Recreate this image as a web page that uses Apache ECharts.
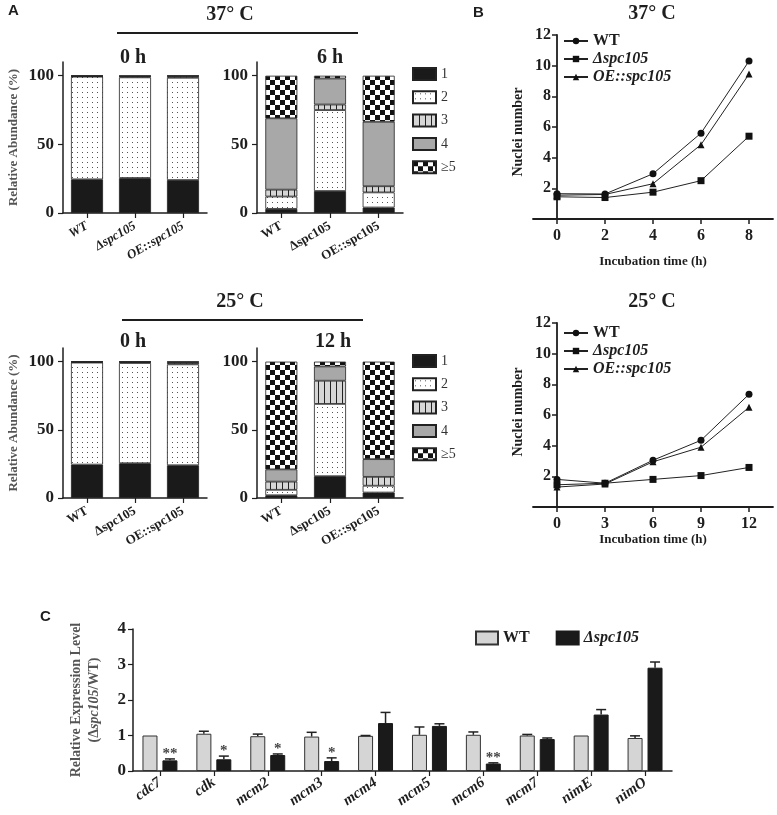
<!DOCTYPE html>
<html><head><meta charset="utf-8">
<script src="https://cdn.jsdelivr.net/npm/echarts@6/dist/echarts.min.js"></script>
<style>html,body{margin:0;padding:0;background:#fff}#c{width:777px;height:815px}</style>
</head><body><div id="c"></div>
<script>
// ---------- Panel A data (rows = nuclei classes, columns = strains) ----------
const strains = ['WT', 'Δspc105', 'OE::spc105'];
const nucleiClasses = ['1', '2', '3', '4', '≥5'];
const A37_0h = [[24.5, 25.5, 24], [74.8, 73.3, 74.5], [0.4, 0.7, 1.0], [0.2, 0.3, 0.4], [0.1, 0.2, 0.1]];
const A37_6h = [[3, 16, 4], [9, 59, 11], [5, 4, 4.5], [52, 19, 47], [31, 2, 33.5]];
const A25_0h = [[24.5, 25.5, 24], [74.8, 73.5, 74], [0.4, 0.6, 1.0], [0.2, 0.3, 0.8], [0.1, 0.1, 0.2]];
const A25_12h = [[2, 16, 4], [4, 53, 5], [6, 17, 6.5], [9, 10.5, 13], [79, 3.5, 71.5]];
const aTicks = [0, 50, 100];

// ---------- Panel B data ----------
const lineNames = ['WT', 'Δspc105', 'OE::spc105'];
const t37 = [0, 2, 4, 6, 8];
const wt37 = [1.65, 1.63, 2.95, 5.6, 10.3];
const del37 = [1.45, 1.4, 1.75, 2.5, 5.4];
const oe37 = [1.55, 1.6, 2.3, 4.85, 9.45];
const t25 = [0, 3, 6, 9, 12];
const wt25 = [1.8, 1.55, 3.05, 4.35, 7.35];
const del25 = [1.45, 1.55, 1.8, 2.05, 2.58];
const oe25 = [1.3, 1.5, 2.95, 3.9, 6.5];
const bTicks37 = [0, 2, 4, 6, 8];
const bTicks25 = [0, 3, 6, 9, 12];
const bYTicks = [2, 4, 6, 8, 10, 12];

// ---------- Panel C data ----------
const genes = ['cdc7', 'cdk', 'mcm2', 'mcm3', 'mcm4', 'mcm5', 'mcm6', 'mcm7', 'nimE', 'nimO'];
const wtExpr = [1.0, 1.05, 0.98, 0.97, 0.99, 1.02, 1.02, 1.0, 1.0, 0.93];
const wtErr = [0, 0.07, 0.06, 0.12, 0.01, 0.22, 0.08, 0.03, 0, 0.06];
const delExpr = [0.3, 0.33, 0.45, 0.28, 1.35, 1.27, 0.21, 0.9, 1.59, 2.91];
const delErr = [0.04, 0.09, 0.03, 0.09, 0.3, 0.06, 0.02, 0.03, 0.14, 0.16];
const sig = ['**', '*', '*', '*', '', '', '**', '', '', ''];

const SERIF = '"Liberation Serif", "DejaVu Serif", serif';
const SANS = '"Liberation Sans", Arial, sans-serif';
const INK = '#1e1e1e';

function mkPattern(kind) {
  const c = document.createElement('canvas');
  const ctx = c.getContext('2d');
  if (kind === 'dots') {
    c.width = 5; c.height = 5;
    ctx.fillStyle = '#fff'; ctx.fillRect(0, 0, 5, 5);
    ctx.fillStyle = '#555'; ctx.fillRect(2, 2, 1, 1);
  } else if (kind === 'vstripe') {
    c.width = 6; c.height = 6;
    ctx.fillStyle = '#d6d6d6'; ctx.fillRect(0, 0, 6, 6);
    ctx.fillStyle = '#222'; ctx.fillRect(0, 0, 1, 6);
  } else {
    c.width = 10; c.height = 10;
    ctx.fillStyle = '#fff'; ctx.fillRect(0, 0, 10, 10);
    ctx.fillStyle = '#111'; ctx.fillRect(0, 0, 5, 5); ctx.fillRect(5, 5, 5, 5);
  }
  return { image: c, repeat: 'repeat' };
}
const classFills = ['#1a1a1a', mkPattern('dots'), mkPattern('vstripe'), '#a8a8a8', mkPattern('checker')];

const grids = [
  { left: 63, top: 62, width: 144, height: 151 },
  { left: 257, top: 62, width: 146, height: 151 },
  { left: 63, top: 348, width: 144, height: 150 },
  { left: 257, top: 348, width: 146, height: 150 },
  { left: 533, top: 35, width: 240, height: 184 },
  { left: 533, top: 323, width: 240, height: 184 },
  { left: 133, top: 629, width: 539, height: 142 }
];

const axisLine = { show: true, lineStyle: { color: INK, width: 1.5 } };
const xAxes = [], yAxes = [], series = [];

// Panel A axes and bars
const aPanels = [A37_0h, A37_6h, A25_0h, A25_12h];
aPanels.forEach((panel, gi) => {
  xAxes.push({
    gridIndex: gi, type: 'category', data: strains,
    axisLine: axisLine, axisTick: { show: true, alignWithLabel: true, length: 5, lineStyle: { color: INK, width: 1.2 } },
    axisLabel: { rotate: 30, margin: 12, fontFamily: SERIF, fontWeight: 'bold', fontSize: 13, color: INK, fontStyle: gi === 0 ? 'italic' : 'normal' }
  });
  yAxes.push({
    gridIndex: gi, type: 'value', min: 0, max: 110, interval: 50,
    name: (gi % 2 === 0) ? 'Relative Abundance (%)' : '', nameLocation: 'middle', nameGap: 43, nameRotate: 90,
    nameTextStyle: { fontFamily: SERIF, fontSize: 13, fontWeight: 'bold', color: '#555' },
    axisLine: axisLine, splitLine: { show: false },
    axisTick: { show: true, length: 5, customValues: aTicks, lineStyle: { color: INK, width: 1.2 } },
    axisLabel: { customValues: aTicks, fontFamily: SERIF, fontWeight: 'bold', fontSize: 17, color: INK, margin: 9 }
  });
  panel.forEach((vals, k) => {
    series.push({
      type: 'bar', name: nucleiClasses[k], stack: 'A' + gi, xAxisIndex: gi, yAxisIndex: gi,
      data: vals, barWidth: 32,
      itemStyle: { color: classFills[k], borderColor: '#222', borderWidth: 0.8 }
    });
  });
});

// Panel B axes and lines (y axis sits at time 0, one step inside the x range)
const bSets = [
  { t: t37, ys: [wt37, del37, oe37], min: -1, max: 9, ticks: bTicks37, nameGap: 36 },
  { t: t25, ys: [wt25, del25, oe25], min: -1.5, max: 13.5, ticks: bTicks25, nameGap: 12 }
];
const symbols = ['circle', 'rect', 'triangle'];
bSets.forEach((s, j) => {
  const gi = 4 + j;
  xAxes.push({
    gridIndex: gi, type: 'value', min: s.min, max: s.max,
    name: 'Incubation time (h)', nameLocation: 'middle', nameGap: s.nameGap,
    nameTextStyle: { fontFamily: SERIF, fontSize: 13, fontWeight: 'bold', color: INK },
    axisLine: { show: true, onZero: false, lineStyle: { color: INK, width: 1.8 } }, splitLine: { show: false },
    axisTick: { show: true, length: 5, customValues: s.ticks, lineStyle: { color: INK, width: 1.5 } },
    axisLabel: { customValues: s.ticks, fontFamily: SERIF, fontWeight: 'bold', fontSize: 16, color: INK, margin: 9 }
  });
  yAxes.push({
    gridIndex: gi, type: 'value', min: 0, max: 12, interval: 2, offset: -24,
    axisLine: { show: true, onZero: false, lineStyle: { color: INK, width: 1.8 } }, splitLine: { show: false },
    axisTick: { show: true, length: 5, customValues: bYTicks, lineStyle: { color: INK, width: 1.5 } },
    axisLabel: { customValues: bYTicks, fontFamily: SERIF, fontWeight: 'bold', fontSize: 16, color: INK, margin: 6 }
  });
  s.ys.forEach((ys, k) => {
    series.push({
      type: 'line', name: lineNames[k], xAxisIndex: gi, yAxisIndex: gi,
      data: s.t.map((t, i) => [t, ys[i]]),
      symbol: symbols[k], symbolSize: 7,
      lineStyle: { color: '#222', width: 1 }, itemStyle: { color: '#111' }
    });
  });
});

// Panel C axes and bars
xAxes.push({
  gridIndex: 6, type: 'category', data: genes,
  axisLine: axisLine, axisTick: { show: true, alignWithLabel: true, length: 5, lineStyle: { color: INK, width: 1.2 } },
  axisLabel: { rotate: 35, margin: 10, fontFamily: SERIF, fontWeight: 'bold', fontStyle: 'italic', fontSize: 15, color: INK }
});
yAxes.push({
  gridIndex: 6, type: 'value', min: 0, max: 4, interval: 1,
  name: 'Relative Expression Level\n(Δ{i|spc105}/WT)', nameLocation: 'middle', nameGap: 30, nameRotate: 90,
  nameTextStyle: { fontFamily: SERIF, fontSize: 14, fontWeight: 'bold', color: '#555', lineHeight: 18,
    rich: { i: { fontFamily: SERIF, fontSize: 14, fontWeight: 'bold', fontStyle: 'italic', color: '#555' } } },
  axisLine: axisLine, splitLine: { show: false },
  axisTick: { show: true, length: 5, lineStyle: { color: INK, width: 1.2 } },
  axisLabel: { fontFamily: SERIF, fontWeight: 'bold', fontSize: 17, color: INK, margin: 7 }
});
series.push({
  type: 'bar', name: 'WT_C', xAxisIndex: 6, yAxisIndex: 6, data: wtExpr, barWidth: 15, barGap: '33%',
  itemStyle: { color: '#d5d5d5', borderColor: '#333', borderWidth: 1 }
});
series.push({
  type: 'bar', name: 'Δspc105_C', xAxisIndex: 6, yAxisIndex: 6, data: delExpr, barWidth: 15, barGap: '33%',
  itemStyle: { color: '#1a1a1a', borderColor: '#1a1a1a', borderWidth: 1 }
});
function errSeries(vals, errs, side, withSig) {
  return {
    type: 'custom', xAxisIndex: 6, yAxisIndex: 6, z: 5,
    data: vals.map((v, i) => [i, v, errs[i]]),
    renderItem: function (params, api) {
      const i = api.value(0), v = api.value(1), e = api.value(2);
      const base = api.coord([i, v]);
      const top = api.coord([i, v + e]);
      const x = base[0] + side * 10;
      const children = [];
      if (e > 0) {
        children.push({ type: 'line', shape: { x1: x, y1: base[1], x2: x, y2: top[1] }, style: { stroke: '#222', lineWidth: 1.5 } });
        children.push({ type: 'line', shape: { x1: x - 5, y1: top[1], x2: x + 5, y2: top[1] }, style: { stroke: '#222', lineWidth: 1.5 } });
      }
      const s = withSig ? sig[params.dataIndex] : '';
      if (s) {
        children.push({ type: 'text', style: { text: s, x: x, y: top[1] + 3, textAlign: 'center', textVerticalAlign: 'bottom', font: 'bold 15px ' + SERIF, fill: '#444' } });
      }
      return { type: 'group', children: children };
    }
  };
}
series.push(errSeries(wtExpr, wtErr, -1, false));
series.push(errSeries(delExpr, delErr, 1, true));

function txt(text, x, y, font, align) {
  return { type: 'text', style: { text: text, x: x, y: y, font: font, textAlign: align || 'center', textVerticalAlign: 'middle', fill: INK } };
}
function vtxt(text, x, y, font) {
  return { type: 'text', x: x, y: y, rotation: Math.PI / 2,
    style: { text: text, x: 0, y: 0, font: font, textAlign: 'center', textVerticalAlign: 'middle', fill: INK } };
}
const graphics = [
  txt('A', 8, 11, 'bold 15px ' + SANS, 'left'),
  txt('B', 473, 13, 'bold 15px ' + SANS, 'left'),
  txt('C', 40, 617, 'bold 15px ' + SANS, 'left'),
  txt('37° C', 230, 15, 'bold 20px ' + SERIF),
  { type: 'line', shape: { x1: 117, y1: 33, x2: 358, y2: 33 }, style: { stroke: INK, lineWidth: 2 } },
  txt('0 h', 133, 58, 'bold 20px ' + SERIF),
  txt('6 h', 330, 58, 'bold 20px ' + SERIF),
  txt('25° C', 240, 302, 'bold 20px ' + SERIF),
  { type: 'line', shape: { x1: 122, y1: 320, x2: 363, y2: 320 }, style: { stroke: INK, lineWidth: 2 } },
  txt('0 h', 133, 342, 'bold 20px ' + SERIF),
  txt('12 h', 333, 342, 'bold 20px ' + SERIF),
  txt('37° C', 652, 14, 'bold 20px ' + SERIF),
  txt('25° C', 652, 302, 'bold 20px ' + SERIF),
  vtxt('Nuclei number', 518, 132, 'bold 14px ' + SERIF),
  vtxt('Nuclei number', 518, 412, 'bold 14px ' + SERIF)
];

const legendA = (top) => ({
  data: nucleiClasses, orient: 'vertical', left: 407, top: top, icon: 'rect',
  itemWidth: 23, itemHeight: 12, itemGap: 9.3, selectedMode: false,
  textStyle: { fontFamily: SERIF, fontSize: 14, color: '#333' }
});
const legendB = (top) => ({
  data: lineNames, orient: 'vertical', left: 558, top: top,
  itemWidth: 24, itemHeight: 8, itemGap: 2, selectedMode: false,
  formatter: n => n === 'WT' ? 'WT' : '{i|' + n + '}',
  textStyle: { fontFamily: SERIF, fontSize: 16, fontWeight: 'bold', color: INK,
    rich: { i: { fontFamily: SERIF, fontSize: 16, fontWeight: 'bold', fontStyle: 'italic', color: INK } } }
});

const option = {
  animation: false,
  backgroundColor: '#fff',
  grid: grids,
  xAxis: xAxes,
  yAxis: yAxes,
  legend: [
    legendA(62), legendA(349), legendB(28), legendB(320),
    {
      data: ['WT_C', 'Δspc105_C'], orient: 'horizontal', left: 470, top: 625, icon: 'rect',
      itemWidth: 22, itemHeight: 13, itemGap: 26, selectedMode: false,
      formatter: n => n === 'WT_C' ? 'WT' : '{i|Δspc105}',
      textStyle: { fontFamily: SERIF, fontSize: 16, fontWeight: 'bold', color: INK,
        rich: { i: { fontFamily: SERIF, fontSize: 16, fontWeight: 'bold', fontStyle: 'italic', color: INK } } }
    }
  ],
  graphic: graphics,
  series: series
};
const chart = echarts.init(document.getElementById('c'), null, { renderer: 'canvas' });
chart.setOption(option);
</script>
</body></html>
